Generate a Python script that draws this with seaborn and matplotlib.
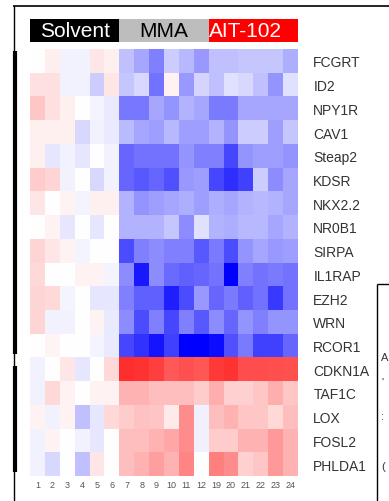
import matplotlib
matplotlib.use("Agg")
import matplotlib.pyplot as plt
import seaborn as sns
import pandas as pd
import numpy as np
from matplotlib.colors import ListedColormap
from matplotlib.lines import Line2D

genes = ["FCGRT", "ID2", "NPY1R", "CAV1", "Steap2", "KDSR", "NKX2.2", "NR0B1",
         "SIRPA", "IL1RAP", "EZH2", "WRN", "RCOR1", "CDKN1A", "TAF1C", "LOX",
         "FOSL2", "PHLDA1"]
solvent_cols = ["1", "2", "3", "4", "5", "6"]
mma_cols = ["7", "8", "9", "10", "11", "12"]
ait_cols = ["19", "20", "21", "22", "23", "24"]
groups = ["Solvent", "MMA", "AIT-102"]

solvent = [
    [0.0, 0.07, -0.05, -0.05, 0.1, 0.06],
    [0.12, 0.12, -0.05, -0.05, -0.2, 0.1],
    [0.22, 0.12, 0.06, 0.0, -0.04, -0.08],
    [0.06, 0.06, 0.06, -0.15, -0.05, -0.08],
    [0.06, -0.1, -0.05, -0.1, 0.0, -0.05],
    [0.2, 0.17, -0.05, 0.0, -0.15, -0.05],
    [0.1, 0.0, 0.05, -0.04, 0.06, 0.06],
    [0.0, 0.05, -0.1, 0.0, -0.1, 0.0],
    [0.17, 0.1, 0.05, -0.04, 0.0, 0.0],
    [0.15, 0.0, 0.0, 0.05, 0.05, -0.04],
    [0.17, 0.15, -0.04, 0.0, -0.1, -0.1],
    [0.17, -0.05, -0.05, 0.0, 0.05, -0.08],
    [0.0, 0.04, 0.0, 0.0, -0.04, -0.08],
    [-0.05, 0.0, 0.1, -0.1, 0.0, 0.15],
    [-0.05, 0.15, 0.05, 0.0, 0.05, 0.05],
    [0.05, -0.05, 0.05, -0.25, -0.1, 0.15],
    [-0.05, 0.05, 0.0, -0.05, -0.1, 0.0],
    [-0.05, -0.15, 0.0, -0.25, 0.1, 0.0],
]
mma = [
    [-0.25, -0.35, -0.5, -0.2, -0.28, -0.4],
    [-0.22, -0.15, -0.55, 0.05, -0.4, -0.17],
    [-0.53, -0.53, -0.35, -0.42, -0.3, -0.35],
    [-0.27, -0.35, -0.38, -0.28, -0.38, -0.38],
    [-0.6, -0.55, -0.55, -0.55, -0.42, -0.5],
    [-0.6, -0.65, -0.6, -0.68, -0.4, -0.38],
    [-0.3, -0.42, -0.38, -0.35, -0.32, -0.38],
    [-0.3, -0.3, -0.3, -0.22, -0.45, -0.12],
    [-0.7, -0.5, -0.45, -0.5, -0.5, -0.65],
    [-0.45, -0.9, -0.45, -0.58, -0.62, -0.6],
    [-0.5, -0.62, -0.62, -0.88, -0.7, -0.4],
    [-0.45, -0.7, -0.5, -0.72, -0.5, -0.65],
    [-0.72, -0.8, -0.92, -0.75, -1.0, -1.0],
    [0.82, 0.8, 0.75, 0.65, 0.68, 0.66],
    [0.3, 0.3, 0.25, 0.25, 0.25, 0.2],
    [0.2, 0.24, 0.23, 0.08, 0.45, -0.06],
    [0.25, 0.25, 0.3, 0.35, 0.45, -0.06],
    [0.25, 0.3, 0.38, 0.3, 0.48, 0.0],
]
ait102 = [
    [-0.25, -0.25, -0.22, -0.22, -0.22, -0.32],
    [-0.25, -0.12, -0.15, -0.25, -0.42, -0.12],
    [-0.52, -0.52, -0.35, -0.35, -0.35, -0.35],
    [-0.3, -0.42, -0.2, -0.2, -0.38, -0.22],
    [-0.5, -0.72, -0.42, -0.38, -0.38, -0.42],
    [-0.72, -0.82, -0.75, -0.2, -0.45, -0.35],
    [-0.32, -0.35, -0.3, -0.28, -0.3, -0.35],
    [-0.3, -0.32, -0.28, -0.28, -0.35, -0.3],
    [-0.52, -0.7, -0.42, -0.35, -0.4, -0.38],
    [-0.55, -1.0, -0.5, -0.55, -0.52, -0.55],
    [-0.6, -0.52, -0.62, -0.55, -0.78, -0.55],
    [-0.45, -0.6, -0.42, -0.5, -0.42, -0.42],
    [-0.95, -0.68, -0.52, -0.75, -0.75, -0.6],
    [0.78, 0.8, 0.7, 0.7, 0.69, 0.68],
    [0.32, 0.18, 0.18, 0.22, 0.32, 0.22],
    [0.25, 0.3, 0.22, 0.22, 0.15, 0.25],
    [0.2, 0.2, 0.3, 0.3, 0.4, 0.3],
    [0.5, 0.45, 0.18, 0.22, 0.4, 0.3],
]

df = pd.concat([pd.DataFrame(solvent, index=genes, columns=solvent_cols),
                pd.DataFrame(mma, index=genes, columns=mma_cols),
                pd.DataFrame(ait102, index=genes, columns=ait_cols)], axis=1)

plt.rcParams['font.family'] = ['Liberation Sans', 'DejaVu Sans']

W, H = 389, 502
fig = plt.figure(figsize=(W / 100, H / 100), dpi=100)

def box(x0, y0, x1, y1):
    return [x0 / W, 1 - y1 / H, (x1 - x0) / W, (y1 - y0) / H]

# main heatmap
ax = fig.add_axes(box(30, 50, 298, 477))
sns.heatmap(df, cmap="bwr", vmin=-1, vmax=1, cbar=False, ax=ax)
ax.yaxis.tick_right()
ax.set_yticks(np.arange(len(genes)) + 0.5)
ax.set_yticklabels(genes, rotation=0, fontsize=10, color="#333333")
ax.tick_params(axis="y", length=0, pad=11)
ax.set_xticks(np.arange(df.shape[1]) + 0.5)
ax.set_xticklabels(df.columns, rotation=0, fontsize=6.5, color="#555555")
ax.tick_params(axis="x", length=0, pad=3)
ax.set_xlabel("")
ax.set_ylabel("")

# group header bar
group_code = pd.DataFrame([[0] * 6 + [1] * 6 + [2] * 6], columns=df.columns)
hax = fig.add_axes(box(30, 20, 298, 43.3))
sns.heatmap(group_code, cmap=ListedColormap(["black", "#bdbdbd", "#ff0000"]),
            vmin=-0.5, vmax=2.5, cbar=False, ax=hax)
hax.set_xticks([])
hax.set_yticks([])
hax.set_xlabel("")
hax.set_ylabel("")
hax.text(3, 0.5, groups[0], color="white", fontsize=15, ha="center", va="center")
hax.text(9, 0.5, groups[1], color="black", fontsize=15, ha="center", va="center")
hax.text(14.5, 0.5, groups[2], color="white", fontsize=15, ha="center", va="center")

# frame lines of the surrounding panel
def fline(xs, ys, lw):
    fig.add_artist(Line2D([x / W for x in xs], [1 - y / H for y in ys],
                          color="black", lw=lw, solid_capstyle="butt"))

fline([13, 389], [7, 7], 1.2)
fline([14, 14], [7, 502], 1.0)
fline([15, 15], [52, 355], 3.0)
fline([15, 15], [367, 473], 3.0)
fline([377, 377], [285, 502], 1.0)
fline([377, 389], [285, 285], 1.0)

for ch, yy in [("A", 358), ("'", 383), (":", 417), ("(", 467)]:
    fig.text(381 / W, 1 - yy / H, ch, fontsize=8, color="#333333", va="center")

fig.savefig("out.png", dpi=100)
